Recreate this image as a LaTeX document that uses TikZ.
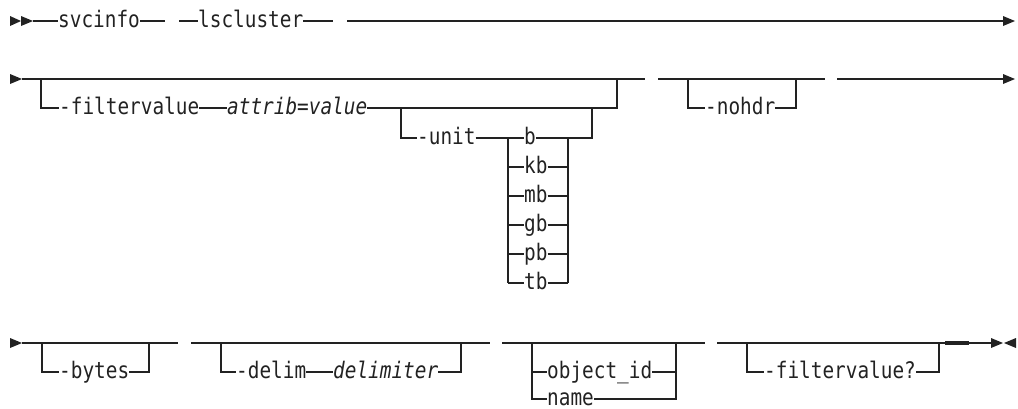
\documentclass[tikz,border=0pt]{standalone}
\usepackage{fontspec}
\newfontfamily\rr[FakeStretch=0.85]{DejaVu Sans Mono}
\definecolor{ink}{HTML}{222222}
\begin{document}
\rr\fontsize{22.8}{26}\selectfont
\begin{tikzpicture}[x=1pt,y=-1pt,
  rail/.style={line width=1.3pt, draw=ink},
  thickrail/.style={line width=3.2pt, draw=ink},
  lbl/.style={inner sep=0pt, anchor=mid west, text=ink, font=\rr\fontsize{22.8}{26}\selectfont},
  var/.style={lbl, font=\rr\itshape\fontsize{22.8}{26}\selectfont},
  tip/.style={fill=ink}]
\useasboundingbox (0,0) rectangle (1018,408);

% ---------------- Row 1 ----------------
\fill[tip] (10,16) -- (21,21) -- (10,26) -- cycle;
\fill[tip] (21,16) -- (33,21) -- (21,26) -- cycle;
\coordinate (r1s) at (33,21);
\node[lbl] (svc) at (58,21) {svcinfo};
\coordinate (r1a) at (165,21);
\coordinate (r1b) at (179,21);
\node[lbl] (lsc) at (198,21) {lscluster};
\coordinate (r1c) at (333,21);
\coordinate (r1d) at (347,21);
\coordinate (r1e) at (1004,21);
\draw[rail] (r1s) -- (svc.mid west);
\draw[rail] (svc.mid east) -- (r1a);
\draw[rail] (r1b) -- (lsc.mid west);
\draw[rail] (lsc.mid east) -- (r1c);
\draw[rail] (r1d) -- (r1e);
\fill[tip] (1003,16) -- (1015,21) -- (1003,26) -- cycle;

% ---------------- Row 2 ----------------
\fill[tip] (10,74) -- (22,79) -- (10,84) -- cycle;
\coordinate (r2s) at (22,79);
\coordinate (r2a) at (645,79);
\coordinate (f1t) at (41,79);
\coordinate (f1b) at (41,108);
\node[lbl] (fv) at (59,108) {-filtervalue};
\node[var] (av) at (227,108) {attrib=value};
\coordinate (f2b) at (617,108);
\coordinate (f2t) at (617,79);
\draw[rail] (r2s) -- (r2a);
\draw[rail] (f1t) -- (f1b) -- (fv.mid west);
\draw[rail] (fv.mid east) -- (av.mid west);
\draw[rail] (av.mid east) -- (f2b) -- (f2t);

% unit branch
\coordinate (u1t) at (401,108);
\coordinate (u1b) at (401,138);
\node[lbl] (unit) at (417,138) {-unit};
\coordinate (sL) at (508,138);
\coordinate (sLb) at (508,283);
\coordinate (sR) at (568,138);
\coordinate (sRb) at (568,283);
\coordinate (u2b) at (592,138);
\coordinate (u2t) at (592,108);
\draw[rail] (u1t) -- (u1b) -- (unit.mid west);
\draw[rail] (unit.mid east) -- (sL);
\draw[rail] (sL) -- (sLb);
\draw[rail] (sR) -- (sRb);
\draw[rail] (sR) -- (u2b) -- (u2t);
\foreach \t/\y [count=\i] in {b/138,kb/167,mb/196,gb/225,pb/254,tb/283}{
  \coordinate (uL\i) at (508,\y);
  \coordinate (uR\i) at (568,\y);
  \node[lbl] (uu\i) at (524,\y) {\t};
  \draw[rail] (uL\i) -- (uu\i.mid west);
  \draw[rail] (uu\i.mid east) -- (uR\i);
}

% nohdr
\coordinate (r2b) at (658,79);
\coordinate (r2c) at (825,79);
\coordinate (n1t) at (688,79);
\coordinate (n1b) at (688,108);
\node[lbl] (nh) at (705,108) {-nohdr};
\coordinate (n2b) at (796,108);
\coordinate (n2t) at (796,79);
\draw[rail] (r2b) -- (r2c);
\draw[rail] (n1t) -- (n1b) -- (nh.mid west);
\draw[rail] (nh.mid east) -- (n2b) -- (n2t);
\coordinate (r2d) at (837,79);
\coordinate (r2e) at (1004,79);
\draw[rail] (r2d) -- (r2e);
\fill[tip] (1003,74) -- (1015,79) -- (1003,84) -- cycle;

% ---------------- Row 3 ----------------
\fill[tip] (10,338) -- (22,343) -- (10,348) -- cycle;
\coordinate (r3s) at (22,343);
\coordinate (r3a) at (178,343);
\coordinate (b1t) at (42,343);
\coordinate (b1b) at (42,372);
\node[lbl] (by) at (59,372) {-bytes};
\coordinate (b2b) at (149,372);
\coordinate (b2t) at (149,343);
\draw[rail] (r3s) -- (r3a);
\draw[rail] (b1t) -- (b1b) -- (by.mid west);
\draw[rail] (by.mid east) -- (b2b) -- (b2t);

\coordinate (r3b) at (191,343);
\coordinate (r3c) at (490,343);
\coordinate (d1t) at (221,343);
\coordinate (d1b) at (221,372);
\node[lbl] (dl) at (236,372) {-delim};
\node[var] (dv) at (333,372) {delimiter};
\coordinate (d2b) at (461,372);
\coordinate (d2t) at (461,343);
\draw[rail] (r3b) -- (r3c);
\draw[rail] (d1t) -- (d1b) -- (dl.mid west);
\draw[rail] (dl.mid east) -- (dv.mid west);
\draw[rail] (dv.mid east) -- (d2b) -- (d2t);

\coordinate (r3d) at (502,343);
\coordinate (r3e) at (705,343);
\coordinate (o1t) at (532,343);
\coordinate (o1m) at (532,372);
\coordinate (o1b) at (532,399);
\node[lbl] (oid) at (547,372) {object\_id};
\node[lbl] (onm) at (547,399) {name};
\coordinate (o2t) at (676,343);
\coordinate (o2m) at (676,372);
\coordinate (o2b) at (676,399);
\draw[rail] (r3d) -- (r3e);
\draw[rail] (o1t) -- (o1b) -- (onm.mid west);
\draw[rail] (o1m) -- (oid.mid west);
\draw[rail] (oid.mid east) -- (o2m);
\draw[rail] (onm.mid east) -- (o2b) -- (o2t);

\coordinate (r3f) at (717,343);
\coordinate (r3g) at (992,343);
\coordinate (q1t) at (747,343);
\coordinate (q1b) at (747,372);
\node[lbl] (fq) at (764,372) {-filtervalue?};
\coordinate (q2b) at (939,372);
\coordinate (q2t) at (939,343);
\draw[rail] (r3f) -- (r3g);
\draw[rail] (q1t) -- (q1b) -- (fq.mid west);
\draw[rail] (fq.mid east) -- (q2b) -- (q2t);
\coordinate (k1) at (945,343);
\coordinate (k2) at (969,343);
\draw[thickrail] (k1) -- (k2);
\fill[tip] (991,338) -- (1003,343) -- (991,348) -- cycle;
\fill[tip] (1016,338) -- (1004,343) -- (1016,348) -- cycle;
\end{tikzpicture}
\end{document}
